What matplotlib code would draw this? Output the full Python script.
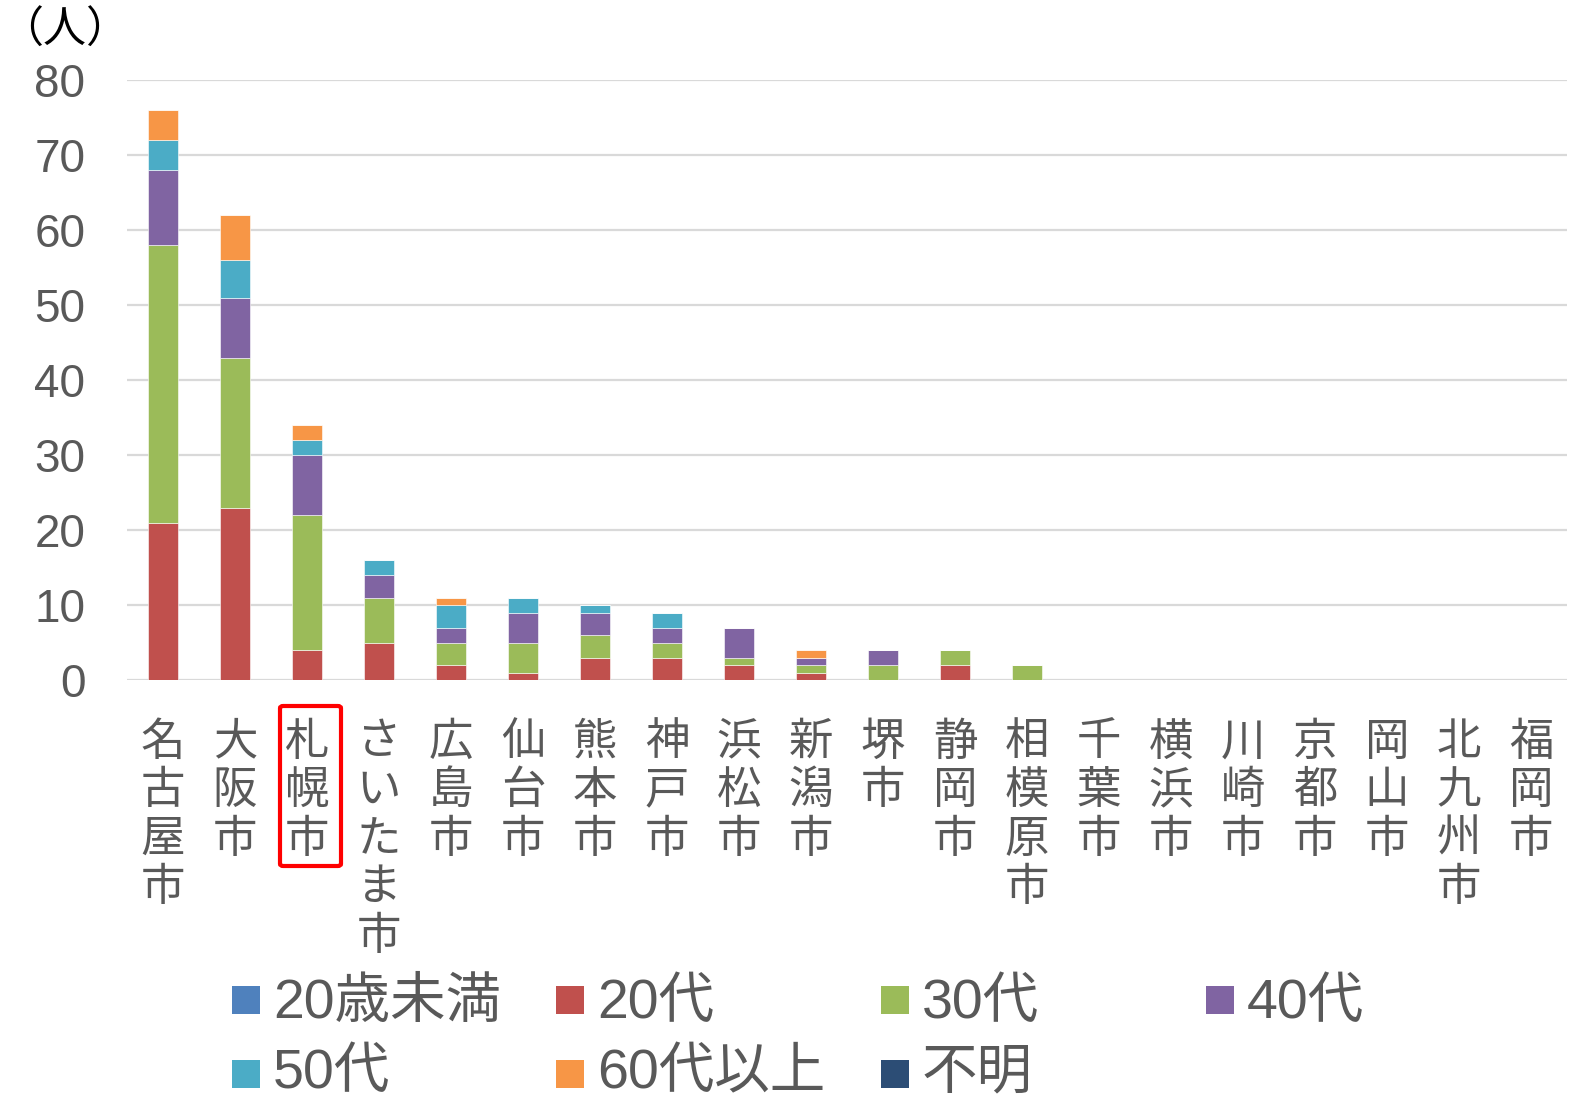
import matplotlib
matplotlib.use("Agg")
import matplotlib.pyplot as plt
from matplotlib.patches import Rectangle, FancyBboxPatch
import matplotlib.transforms as mtransforms
import numpy as np

plt.rcParams['font.family'] = ['Liberation Sans', 'Noto Sans CJK JP', 'DejaVu Sans']

cities = ["名古屋市", "大阪市", "札幌市", "さいたま市", "広島市", "仙台市", "熊本市",
          "神戸市", "浜松市", "新潟市", "堺市", "静岡市", "相模原市", "千葉市",
          "横浜市", "川崎市", "京都市", "岡山市", "北九州市", "福岡市"]

series_names = ["20歳未満", "20代", "30代", "40代", "50代", "60代以上", "不明"]
under20 = [0, 0, 0, 0, 0, 0, 0, 0, 0, 0, 0, 0, 0, 0, 0, 0, 0, 0, 0, 0]
age20s  = [21, 23, 4, 5, 2, 1, 3, 3, 2, 1, 0, 2, 0, 0, 0, 0, 0, 0, 0, 0]
age30s  = [37, 20, 18, 6, 3, 4, 3, 2, 1, 1, 2, 2, 2, 0, 0, 0, 0, 0, 0, 0]
age40s  = [10, 8, 8, 3, 2, 4, 3, 2, 4, 1, 2, 0, 0, 0, 0, 0, 0, 0, 0, 0]
age50s  = [4, 5, 2, 2, 3, 2, 1, 2, 0, 0, 0, 0, 0, 0, 0, 0, 0, 0, 0, 0]
age60up = [4, 6, 2, 0, 1, 0, 0, 0, 0, 1, 0, 0, 0, 0, 0, 0, 0, 0, 0, 0]
unknown = [0, 0, 0, 0, 0, 0, 0, 0, 0, 0, 0, 0, 0, 0, 0, 0, 0, 0, 0, 0]

series = [under20, age20s, age30s, age40s, age50s, age60up, unknown]
colors = ["#4F81BD", "#C0504D", "#9BBB59", "#8064A2", "#4BACC6", "#F79646", "#2C4D75"]

yticks = [0, 10, 20, 30, 40, 50, 60, 70, 80]

W, H = 1583, 1099
fig = plt.figure(figsize=(W / 100, H / 100), dpi=100)
ax = fig.add_axes([127 / W, 1 - 680 / H, 1440 / W, 600 / H])

x = np.arange(len(cities))
bottom = np.zeros(len(cities))
for vals, col in zip(series, colors):
    v = np.array(vals, dtype=float)
    ax.bar(x, v, width=0.42, bottom=bottom, color=col, edgecolor='white', linewidth=0.4, zorder=3)
    bottom += v

ax.set_xlim(-0.5, len(cities) - 0.5)
ax.set_ylim(0, 80)
ax.set_yticks(yticks)
ax.set_yticklabels([str(t) for t in yticks])
ax.tick_params(axis='y', length=0, pad=30, labelsize=33, labelcolor='#595959')
ax.set_xticks([])
ax.grid(axis='y', color='#D9D9D9', linewidth=1.6, zorder=0)
for s in ax.spines.values():
    s.set_visible(False)
ax.axhline(0, color='#D9D9D9', linewidth=2, zorder=2)

# vertical category labels
trans = mtransforms.blended_transform_factory(ax.transData, fig.transFigure)
pitch = 48.5
y0 = 743
for i, name in enumerate(cities):
    for j, ch in enumerate(name):
        ax.text(i, 1 - (y0 + j * pitch) / H, ch, transform=trans, ha='center', va='center',
                fontsize=32, color='#595959', clip_on=False)

# red box around 札幌市
box = FancyBboxPatch((280 / W, 1 - 866 / H), 61 / W, 160 / H,
                     boxstyle="round,pad=0,rounding_size=0.002",
                     transform=fig.transFigure, fill=False, edgecolor='#FF0000', linewidth=3)
fig.add_artist(box)

# unit label
fig.text(0 / W, 1 - 31 / H, "（人）", ha='left', va='center', fontsize=31, color='#000000')

# legend
col_x = [232, 556, 881, 1206]
row_y = [1000, 1074]
text_dy = [4, 0]
for k, (name, col) in enumerate(zip(series_names, colors)):
    r, c = divmod(k, 4)
    mx, my = col_x[c], row_y[r]
    fig.add_artist(Rectangle((mx / W, 1 - (my + 14) / H), 28 / W, 28 / H,
                             transform=fig.transFigure, facecolor=col, edgecolor='none'))
    fig.text((mx + 41) / W, 1 - (my + text_dy[r]) / H, name, ha='left', va='center',
             fontsize=40, color='#595959')

fig.savefig("out.png", dpi=100)
